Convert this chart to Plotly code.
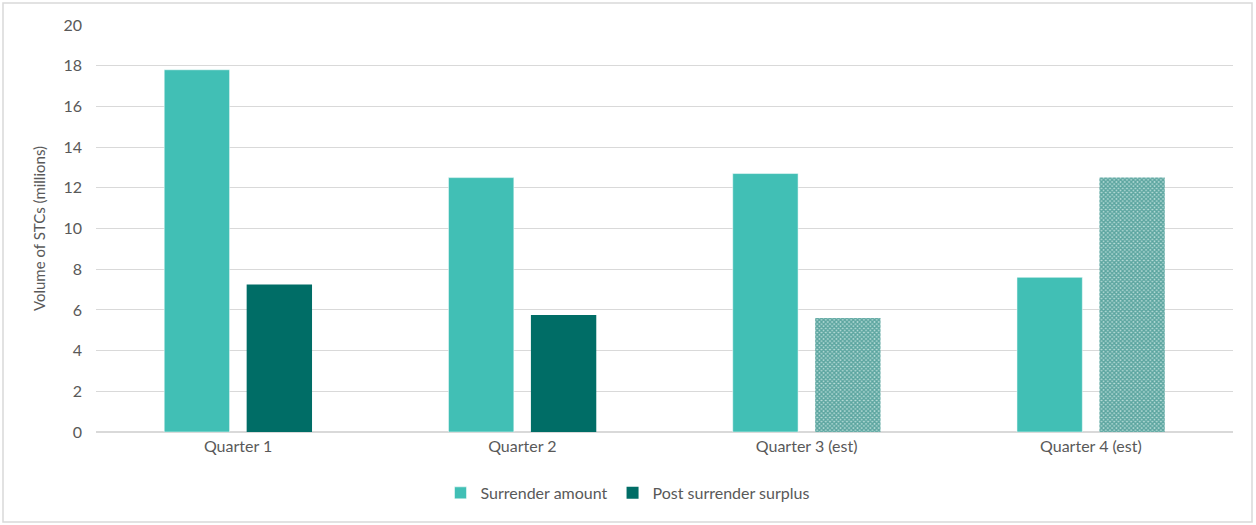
import plotly.graph_objects as go

categories = ["Quarter 1", "Quarter 2", "Quarter 3 (est)", "Quarter 4 (est)"]
surrender_amount = [17.8, 12.5, 12.7, 7.6]
post_surrender_surplus = [7.25, 5.75, 5.6, 12.5]
y_ticks = [0, 2, 4, 6, 8, 10, 12, 14, 16, 18, 20]

TEAL = "#41BFB5"
DARK = "#006D66"
GREY = "#595959"
patterns = ["", "", "x", "x"]
FONT = "Lato, Carlito, Calibri, sans-serif"

fig = go.Figure()
fig.add_trace(go.Bar(
    x=categories, y=surrender_amount, name="Surrender amount",
    marker=dict(color=TEAL, line=dict(color="rgba(255,255,255,0.5)", width=1)),
))
fig.add_trace(go.Bar(
    x=categories, y=post_surrender_surplus, name="Post surrender surplus",
    marker=dict(color=DARK, line=dict(width=0),
                pattern=dict(shape=patterns, fgcolor=DARK, bgcolor="#B7DCD8",
                             size=3, solidity=0.7, fillmode="overlay")),
))

fig.update_layout(
    width=1256, height=525,
    margin=dict(l=96, r=23, t=25, b=93),
    paper_bgcolor="white", plot_bgcolor="white",
    barmode="group", bargap=0.42, bargroupgap=0.207,
    font=dict(family=FONT, size=16, color=GREY),
    showlegend=True,
    legend=dict(orientation="h", x=0.303, xanchor="left", y=-0.108, yanchor="top",
                font=dict(family=FONT, size=16, color=GREY), traceorder="normal"),
    xaxis=dict(showgrid=False, showline=True, linecolor="#D9D9D9", linewidth=1,
               ticks="", tickfont=dict(family=FONT, size=16, color=GREY)),
    yaxis=dict(range=[0, 20], tickvals=y_ticks, showgrid=True, gridcolor="#D9D9D9",
               gridwidth=1, zeroline=True, zerolinecolor="#D9D9D9", showline=False,
               ticks="", ticklabelstandoff=13, tickfont=dict(family=FONT, size=16, color=GREY),
               title=dict(text="Volume of STCs (millions)", standoff=14,
                          font=dict(family=FONT, size=15, color=GREY))),
    shapes=[dict(type="rect", xref="paper", yref="paper",
                 x0=-93/1137, x1=1+19/1137, y0=-90/407, y1=1+22/407,
                 line=dict(color="#D9D9D9", width=1.5), fillcolor="rgba(0,0,0,0)", layer="below")],
)

fig.write_html("out.html")
